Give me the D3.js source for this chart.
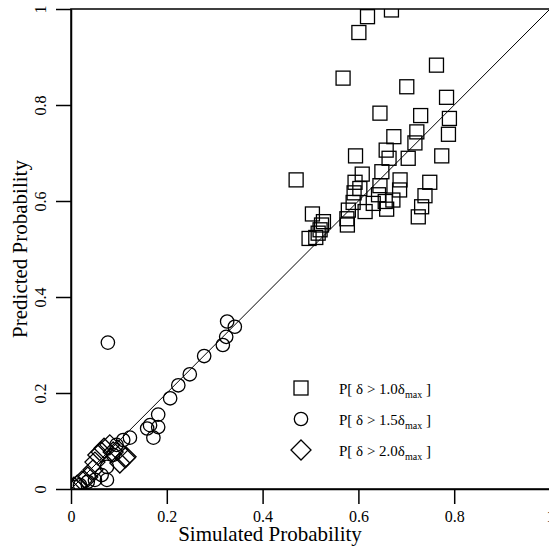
<!DOCTYPE html>
<html>
<head>
<meta charset="utf-8">
<script src="https://cdn.jsdelivr.net/npm/d3@7"></script>
<style>
  body { margin: 0; background: #fff; }
  svg { display: block; font-family: "Liberation Serif", "Times New Roman", serif; }
</style>
</head>
<body>
<script>
// P[ d > 1.0 dmax ]  -> squares
const squares = [
  [0.619, 0.984], [0.669, 0.998], [0.601, 0.951], [0.568, 0.856], [0.701, 0.838],
  [0.763, 0.883], [0.645, 0.783], [0.784, 0.816], [0.730, 0.778], [0.790, 0.772],
  [0.674, 0.734], [0.722, 0.744], [0.788, 0.739], [0.718, 0.721], [0.658, 0.706],
  [0.594, 0.694], [0.664, 0.689], [0.704, 0.689], [0.774, 0.694], [0.470, 0.644],
  [0.608, 0.656], [0.649, 0.661], [0.593, 0.639], [0.687, 0.644], [0.603, 0.626],
  [0.645, 0.632], [0.749, 0.639], [0.591, 0.617], [0.642, 0.613], [0.686, 0.623],
  [0.739, 0.611], [0.589, 0.597], [0.631, 0.595], [0.656, 0.599], [0.672, 0.602],
  [0.732, 0.588], [0.579, 0.581], [0.614, 0.578], [0.659, 0.583], [0.725, 0.567],
  [0.576, 0.563], [0.577, 0.550], [0.504, 0.573], [0.527, 0.557], [0.523, 0.550],
  [0.520, 0.540], [0.516, 0.533], [0.511, 0.524], [0.497, 0.522]
]
// P[ d > 1.5 dmax ]  -> circles
const circles = [
  [0.077, 0.305], [0.326, 0.349], [0.342, 0.338], [0.324, 0.317], [0.317, 0.300],
  [0.278, 0.277], [0.248, 0.239], [0.224, 0.216], [0.207, 0.189], [0.182, 0.155],
  [0.182, 0.129], [0.159, 0.126], [0.165, 0.133], [0.172, 0.107], [0.123, 0.107],
  [0.109, 0.102], [0.095, 0.092], [0.088, 0.071], [0.075, 0.046], [0.064, 0.029],
  [0.050, 0.019], [0.075, 0.019], [0.035, 0.015], [0.019, 0.008], [0.008, 0.004]
]
// P[ d > 2.0 dmax ]  -> diamonds
const diamonds = [
  [0.113, 0.065], [0.115, 0.067], [0.098, 0.081], [0.081, 0.092], [0.069, 0.085],
  [0.056, 0.071], [0.050, 0.056], [0.046, 0.040], [0.035, 0.025], [0.023, 0.017],
  [0.013, 0.008], [0.006, 0.004], [0.102, 0.054], [0.088, 0.077], [0.063, 0.077]
]
const tickVals = [0, 0.2, 0.4, 0.6, 0.8, 1]
const legendLabels = ['1.0', '1.5', '2.0']

const W = 549, H = 554
const box = { left: 71, top: 9, right: 550, bottom: 489 }

const svg = d3.select('body').append('svg')
  .attr('width', W)
  .attr('height', H)

const x = d3.scaleLinear().domain([0, 1]).range([box.left, box.right])
const y = d3.scaleLinear().domain([0, 1]).range([box.bottom, box.top])

svg.append('defs').append('clipPath').attr('id', 'plotclip')
  .append('rect')
  .attr('x', box.left).attr('y', box.top)
  .attr('width', box.right - box.left).attr('height', box.bottom - box.top)

// box
svg.append('rect')
  .attr('x', box.left).attr('y', box.top)
  .attr('width', box.right - box.left).attr('height', box.bottom - box.top)
  .attr('fill', 'none').attr('stroke', '#000').attr('stroke-width', 1.5)

// x axis
const xAxis = svg.append('g')
  .attr('transform', `translate(0,${box.bottom})`)
  .call(d3.axisBottom(x).tickValues(tickVals).tickSize(15).tickSizeOuter(0)
    .tickFormat(d => d3.format('~g')(d)))
xAxis.select('.domain').attr('stroke-width', 1.5)
xAxis.selectAll('line').attr('stroke-width', 1.5)
xAxis.selectAll('text')
  .attr('y', 33).attr('dy', 0)
  .attr('font-size', 16).attr('font-family', '"Liberation Serif", serif').attr('fill', '#000')

// y axis
const yAxis = svg.append('g')
  .attr('transform', `translate(${box.left},0)`)
  .call(d3.axisLeft(y).tickValues(tickVals).tickSize(15).tickSizeOuter(0)
    .tickFormat(d => d3.format('~g')(d)))
yAxis.select('.domain').attr('stroke-width', 1.5)
yAxis.selectAll('line').attr('stroke-width', 1.5)
yAxis.selectAll('text')
  .attr('x', 0).attr('dy', 0)
  .attr('transform', 'translate(-25,0) rotate(-90)')
  .attr('text-anchor', 'middle')
  .attr('font-size', 16).attr('font-family', '"Liberation Serif", serif').attr('fill', '#000')

// axis titles
svg.append('text')
  .attr('x', 270).attr('y', 541)
  .attr('text-anchor', 'middle')
  .attr('font-size', 21)
  .text('Simulated Probability')

svg.append('text')
  .attr('transform', `translate(27,${(box.top + box.bottom) / 2}) rotate(-90)`)
  .attr('text-anchor', 'middle')
  .attr('font-size', 21)
  .text('Predicted Probability')

const plot = svg.append('g').attr('clip-path', 'url(#plotclip)')

// y = x reference line
plot.append('line')
  .attr('x1', x(0)).attr('y1', y(0))
  .attr('x2', x(1)).attr('y2', y(1))
  .attr('stroke', '#000').attr('stroke-width', 1)

const sq = 14, cr = 6.7, dm = 10
const markStyle = sel => sel.attr('fill', 'none').attr('stroke', '#000').attr('stroke-width', 1.3)

plot.selectAll('.sq').data(squares).enter()
  .append('rect').attr('class', 'sq')
  .attr('x', d => x(d[0]) - sq / 2).attr('y', d => y(d[1]) - sq / 2)
  .attr('width', sq).attr('height', sq)
  .call(markStyle)

plot.selectAll('.ci').data(circles).enter()
  .append('circle').attr('class', 'ci')
  .attr('cx', d => x(d[0])).attr('cy', d => y(d[1]))
  .attr('r', cr)
  .call(markStyle)

const diamondPath = (cx, cy) => `M${cx},${cy - dm}L${cx + dm},${cy}L${cx},${cy + dm}L${cx - dm},${cy}Z`

plot.selectAll('.di').data(diamonds).enter()
  .append('path').attr('class', 'di')
  .attr('d', d => diamondPath(x(d[0]), y(d[1])))
  .call(markStyle)

// legend
const legY = [388, 419, 450]
const legX = 301
const lg = svg.append('g')
lg.append('rect')
  .attr('x', legX - sq / 2).attr('y', legY[0] - sq / 2)
  .attr('width', sq).attr('height', sq).call(markStyle)
lg.append('circle')
  .attr('cx', legX).attr('cy', legY[1]).attr('r', cr).call(markStyle)
lg.append('path')
  .attr('d', diamondPath(legX, legY[2])).call(markStyle)

legendLabels.forEach((v, i) => {
  const t = lg.append('text')
    .attr('x', 339).attr('y', legY[i] + 6)
    .attr('font-size', 15)
  t.append('tspan').text(`P[ δ > ${v}δ`)
  t.append('tspan').attr('dy', 4).attr('font-size', 10).text('max')
  t.append('tspan').attr('dy', -4).text(' ]')
})
</script>
</body>
</html>
